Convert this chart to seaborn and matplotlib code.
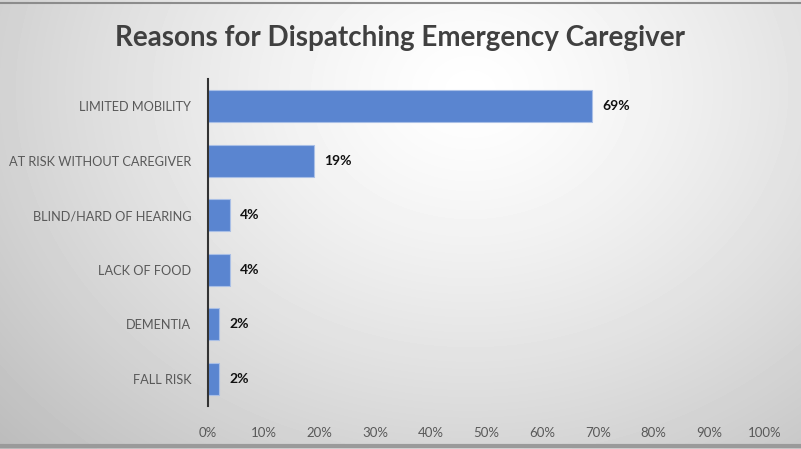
import numpy as np
import pandas as pd
import matplotlib
matplotlib.use("Agg")
import matplotlib.pyplot as plt
import seaborn as sns

# data
reasons = ["LIMITED MOBILITY", "AT RISK WITHOUT CAREGIVER", "BLIND/HARD OF HEARING",
           "LACK OF FOOD", "DEMENTIA", "FALL RISK"]
shares = [69, 19, 4, 4, 2, 2]
xticks = [0, 10, 20, 30, 40, 50, 60, 70, 80, 90, 100]

df = pd.DataFrame({"reason": reasons, "share": shares})

sns.set_style("white")
plt.rcParams["font.family"] = ["Lato", "DejaVu Sans"]

fig = plt.figure(figsize=(8.01, 4.49), dpi=100)

# radial gradient background
bg = fig.add_axes([0, 0, 1, 1], zorder=0)
yy, xx = np.mgrid[0:449, 0:801]
r = np.sqrt(((xx - 470) / 520.0) ** 2 + ((yy - 90) / 420.0) ** 2)
shade = 1.0 - 0.2 * np.clip(r, 0, 1.3) ** 1.3
bg.imshow(shade, cmap="gray", vmin=0, vmax=1, aspect="auto", extent=[0, 801, 449, 0])
bg.set_xlim(0, 801)
bg.set_ylim(449, 0)
bg.axis("off")
bg.plot([0, 801], [3, 3], color="#8c8c8c", lw=1.5)
bg.plot([0, 801], [446, 446], color="#9a9a9a", lw=3)

ax = fig.add_axes([208 / 801, 1 - 406 / 449, 557 / 801, 327 / 449], zorder=1)
ax.patch.set_alpha(0)
sns.barplot(data=df, x="share", y="reason", color="#5a85d0", saturation=1, width=0.58,
            edgecolor="#a9bfe6", linewidth=0.8, ax=ax)

for i, v in enumerate(shares):
    ax.text(v + 1.8, i, f"{v}%", va="center", ha="left", fontsize=10,
            fontweight="bold", color="#111111")

ax.set_xlim(0, 100)
ax.set_ylim(5.5, -0.5)
ax.set_xticks(xticks)
ax.set_xticklabels([f"{t}%" for t in xticks], color="#595959", fontsize=9.5)
ax.tick_params(axis="x", length=0, pad=15)
ax.tick_params(axis="y", length=0, pad=12, labelsize=9.2, labelcolor="#595959")
ax.set_xlabel("")
ax.set_ylabel("")
for s in ["top", "right", "bottom"]:
    ax.spines[s].set_visible(False)
ax.spines["left"].set_color("#333333")
ax.spines["left"].set_linewidth(1.5)

fig.text(400 / 801, 1 - 38 / 449, "Reasons for Dispatching Emergency Caregiver",
         ha="center", va="center", fontsize=20, fontweight="bold", color="#404040")

fig.savefig("out.png", dpi=100)
